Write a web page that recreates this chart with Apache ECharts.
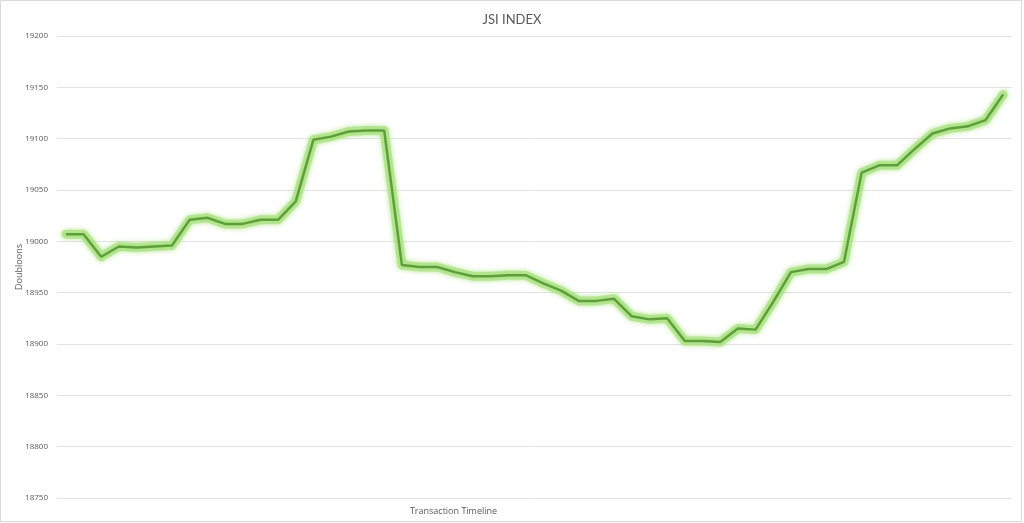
<!DOCTYPE html>
<html>
<head>
<meta charset="utf-8">
<script src="https://cdn.jsdelivr.net/npm/echarts@6/dist/echarts.min.js"></script>
<style>
html,body{margin:0;padding:0;background:#fff;}
#chart{width:1024px;height:523px;}
</style>
</head>
<body>
<div id="chart"></div>
<script>
var titleText = 'JSI INDEX';
var xAxisName = 'Transaction Timeline';
var yAxisName = 'Doubloons';
var categories = [];
for (var i = 1; i <= 54; i++) categories.push(String(i));
var indexValues = [
  19007, 19007, 18985, 18995, 18994, 18995, 18996, 19021, 19023, 19017,
  19017, 19021, 19021, 19039, 19099, 19102, 19107, 19108, 19108, 18977,
  18975, 18975, 18970, 18966, 18966, 18967, 18967, 18959, 18952, 18942,
  18942, 18944, 18927, 18924, 18925, 18903, 18903, 18902, 18915, 18914,
  18941, 18970, 18973, 18973, 18980, 19067, 19074, 19074, 19090, 19105,
  19110, 19112, 19118, 19143
];
var yMin = 18750, yMax = 19200, yStep = 50;

var chart = echarts.init(document.getElementById('chart'), null, {renderer: 'canvas'});
chart.setOption({
  backgroundColor: '#ffffff',
  animation: false,
  title: {
    text: titleText,
    left: 'center',
    top: 8,
    textStyle: {fontFamily: 'Lato', fontSize: 13, fontWeight: 'normal', color: '#595959'}
  },
  graphic: [{
    type: 'rect',
    shape: {x: 0.5, y: 0.5, width: 1021, height: 521},
    style: {fill: 'none', stroke: '#d9d9d9', lineWidth: 1},
    silent: true
  }],
  grid: {left: 57, right: 12, top: 36, bottom: 25, containLabel: false},
  xAxis: {
    type: 'category',
    data: categories,
    boundaryGap: true,
    name: xAxisName,
    nameLocation: 'middle',
    nameGap: 9,
    nameTextStyle: {fontFamily: 'Open Sans', fontSize: 9, color: '#595959', padding: [0, 162, 0, 0]},
    axisLine: {show: false},
    axisTick: {show: false},
    axisLabel: {show: false},
    splitLine: {show: false}
  },
  yAxis: {
    type: 'value',
    min: yMin,
    max: yMax,
    interval: yStep,
    name: yAxisName,
    nameLocation: 'middle',
    nameGap: 33,
    nameMoveOverlap: false,
    nameRotate: 90,
    nameTextStyle: {fontFamily: 'Open Sans', fontSize: 9, color: '#595959'},
    axisLine: {show: false},
    axisTick: {show: false},
    axisLabel: {fontFamily: 'Open Sans', fontSize: 8, color: '#595959', margin: 9,
      formatter: function (v) { return String(v); }},
    splitLine: {lineStyle: {color: '#e3e3e3', width: 1}}
  },
  series: [{
    type: 'line',
    data: indexValues,
    symbol: 'none',
    silent: true,
    lineStyle: {
      width: 9,
      color: 'rgba(170,225,130,0.75)',
      shadowColor: 'rgba(150,220,100,0.9)',
      shadowBlur: 5,
      join: 'round',
      cap: 'round'
    },
    z: 2
  }, {
    type: 'line',
    data: indexValues,
    symbol: 'none',
    lineStyle: {
      width: 2.5,
      color: '#5e9f3c'
    },
    z: 3
  }]
});
</script>
</body>
</html>
